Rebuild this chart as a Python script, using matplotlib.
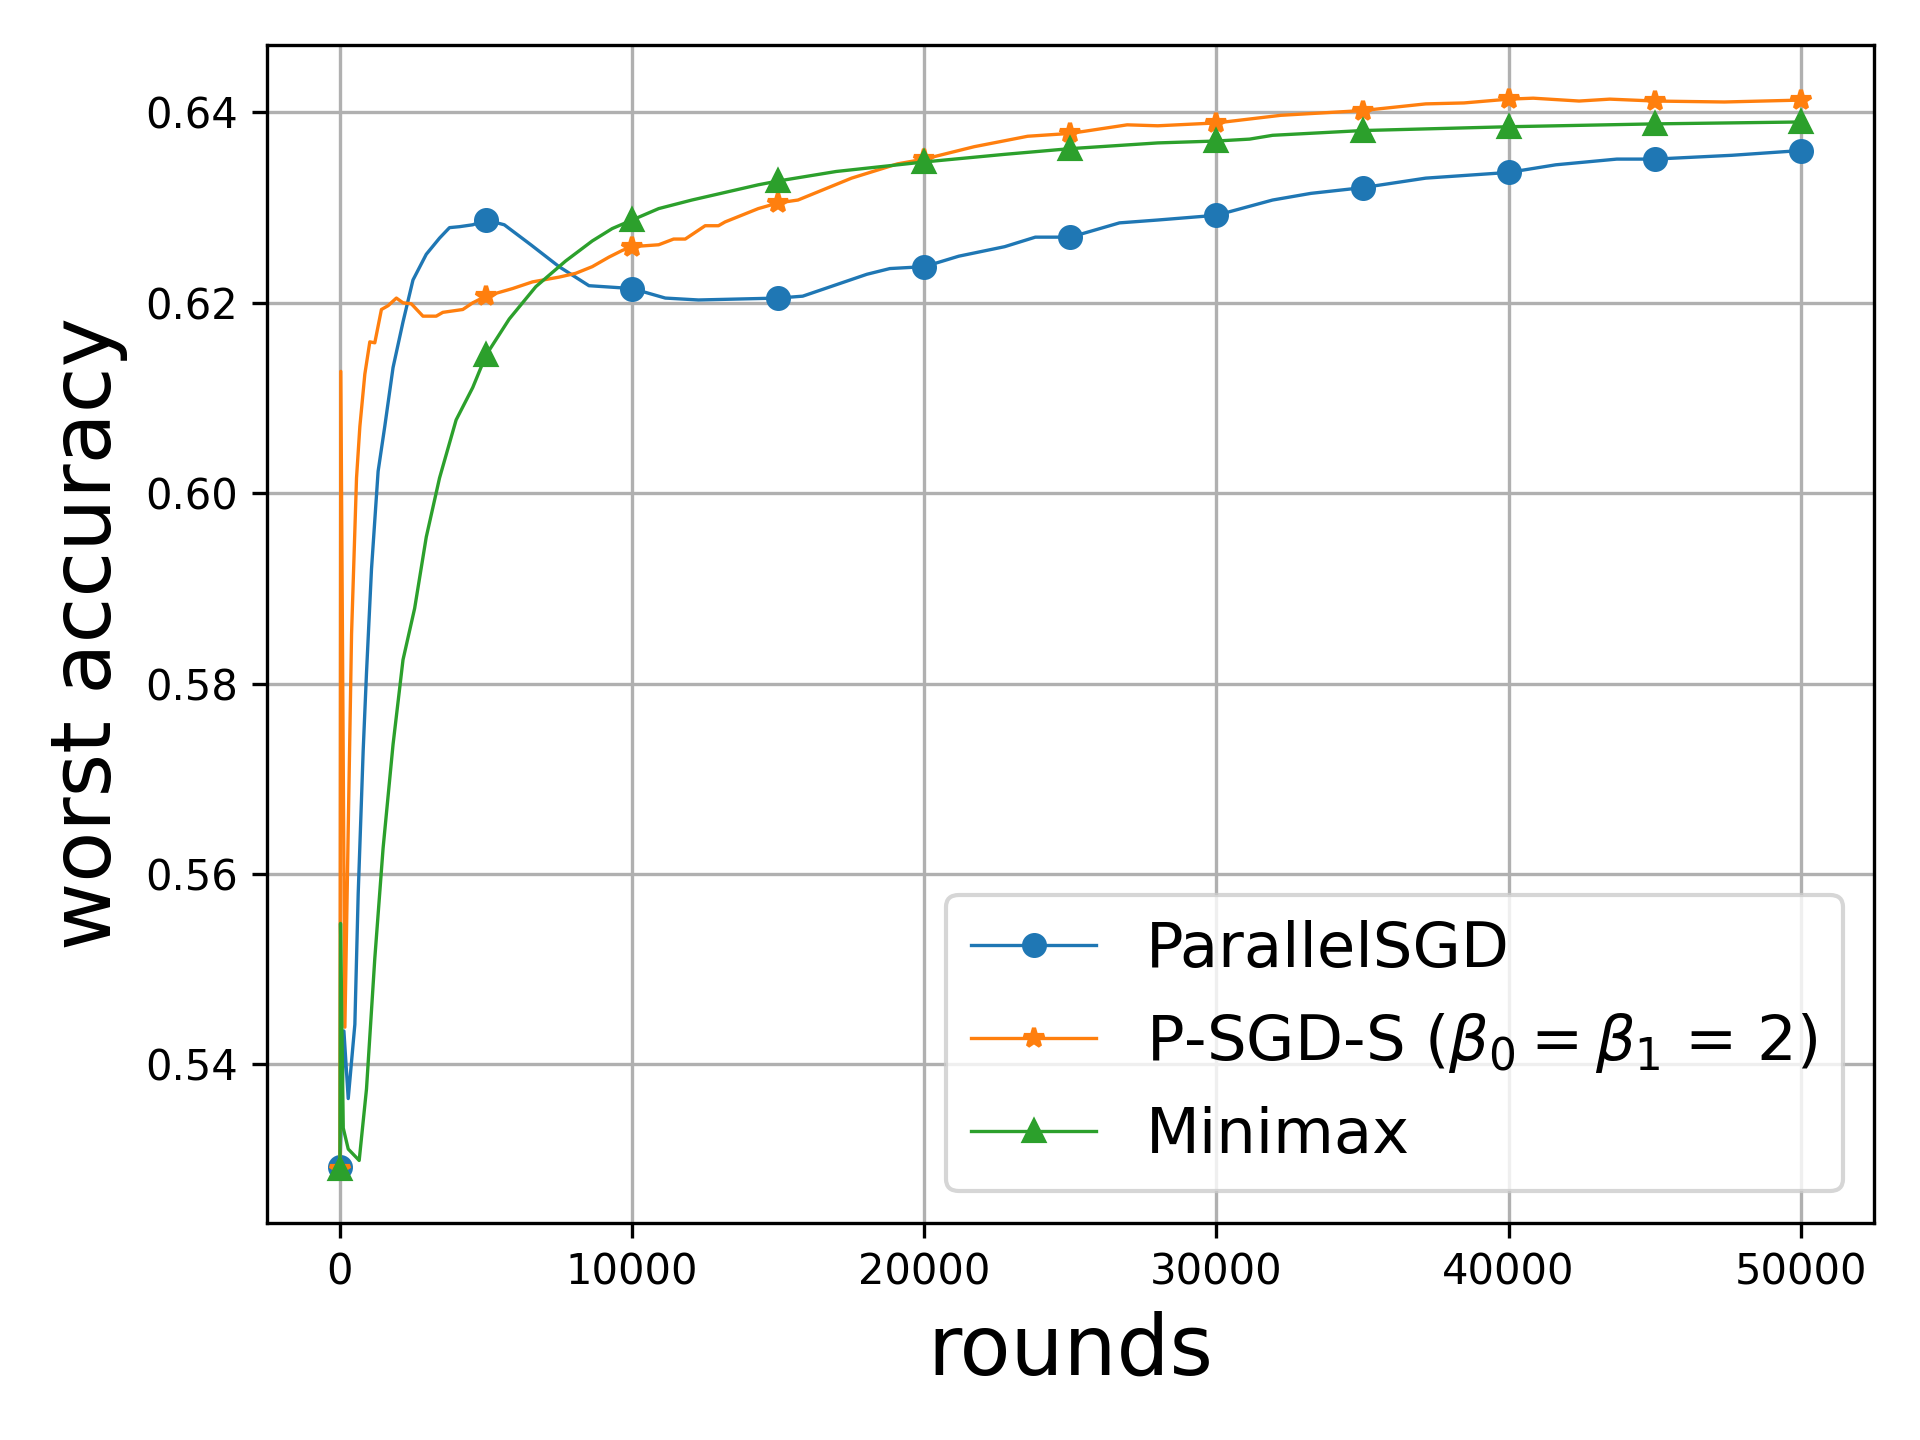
import numpy as np
import matplotlib.pyplot as plt

# Data
psgd_rounds = [0, 136, 284, 511, 625, 795, 909, 1080, 1307, 1534, 1818, 2159, 2500, 2955, 3409, 3750,
               4091, 4545, 5000, 5625, 6534, 7500, 8523, 10000, 11136, 12271, 15000, 15838, 18035, 18821,
               20000, 21179, 22751, 23800, 25000, 26680, 27990, 30000, 31920, 33230, 35000, 37160, 40000,
               41610, 43700, 45000, 47640, 50000]
psgd_acc = [0.5292, 0.5435, 0.5364, 0.5442, 0.5579, 0.5729, 0.5811, 0.5920, 0.6023, 0.6070, 0.6132, 0.6180,
            0.6224, 0.6251, 0.6268, 0.6279, 0.6280, 0.6282, 0.6287, 0.6282, 0.6261, 0.6238, 0.6218, 0.6215,
            0.6205, 0.6203, 0.6205, 0.6207, 0.6230, 0.6236, 0.6238, 0.6249, 0.6259, 0.6269, 0.6269, 0.6284,
            0.6287, 0.6292, 0.6308, 0.6315, 0.6321, 0.6331, 0.6337, 0.6345, 0.6351, 0.6351, 0.6355, 0.6360]

psgds_rounds = [0, 30, 170, 284, 398, 568, 682, 852, 1023, 1193, 1420, 1648, 1932, 2159, 2443, 2841, 3295,
                3523, 4205, 4545, 5000, 5909, 6591, 7500, 8068, 8636, 9205, 9659, 10000, 10909, 11420, 11818,
                12500, 12955, 13182, 14318, 15000, 15677, 17511, 19083, 20000, 21703, 23537, 25000, 26943,
                27990, 30000, 32200, 35000, 37160, 38470, 40000, 40840, 42410, 43460, 45000, 47380, 50000]
psgds_acc = [0.5290, 0.6128, 0.5439, 0.5647, 0.5852, 0.6016, 0.6070, 0.6125, 0.6159, 0.6158, 0.6193, 0.6197,
             0.6205, 0.6200, 0.6199, 0.6186, 0.6186, 0.6190, 0.6193, 0.6200, 0.6207, 0.6215, 0.6222, 0.6227,
             0.6231, 0.6238, 0.6248, 0.6255, 0.6259, 0.6261, 0.6267, 0.6267, 0.6281, 0.6281, 0.6285, 0.6299,
             0.6305, 0.6308, 0.6331, 0.6346, 0.6351, 0.6364, 0.6375, 0.6378, 0.6387, 0.6386, 0.6389, 0.6397,
             0.6402, 0.6409, 0.6410, 0.6414, 0.6415, 0.6412, 0.6414, 0.6412, 0.6411, 0.6413]

minimax_rounds = [0, 20, 114, 284, 659, 909, 1193, 1477, 1818, 2159, 2557, 2955, 3409, 3977, 4545, 5000,
                  5795, 6705, 7727, 8636, 9318, 10000, 10909, 12045, 13182, 14318, 15000, 16987, 20000,
                  22751, 25000, 27990, 30000, 31134, 31920, 35000, 40000, 45000, 50000]
minimax_acc = [0.5290, 0.5548, 0.5333, 0.5311, 0.5299, 0.5374, 0.5511, 0.5627, 0.5736, 0.5825, 0.5879,
               0.5954, 0.6016, 0.6077, 0.6111, 0.6145, 0.6183, 0.6217, 0.6244, 0.6265, 0.6278, 0.6287,
               0.6299, 0.6308, 0.6316, 0.6324, 0.6328, 0.6338, 0.6348, 0.6356, 0.6362, 0.6368, 0.6370,
               0.6372, 0.6376, 0.6381, 0.6385, 0.6388, 0.6390]

labels = ["ParallelSGD", r"P-SGD-S ($\beta_0=\beta_1$ = 2)", "Minimax"]
markers = ["o", "*", "^"]

# Markers only every 5000 rounds
def every_5000(rounds):
    return [i for i, r in enumerate(rounds) if r % 5000 == 0]

fig, ax = plt.subplots(figsize=(6.4, 4.8), dpi=300)
for rounds, acc, label, marker in zip([psgd_rounds, psgds_rounds, minimax_rounds],
                                      [psgd_acc, psgds_acc, minimax_acc], labels, markers):
    ax.plot(rounds, acc, marker=marker, markersize=5, linewidth=0.8,
            markevery=every_5000(rounds), label=label)

ax.grid(True)
ax.set_xlabel("rounds", fontsize=20)
ax.set_ylabel("worst accuracy", fontsize=20)
ax.legend(loc="lower right", fontsize=15)
fig.subplots_adjust(left=0.139, right=0.976, top=0.969, bottom=0.151)
fig.savefig("out.png", dpi=300)
